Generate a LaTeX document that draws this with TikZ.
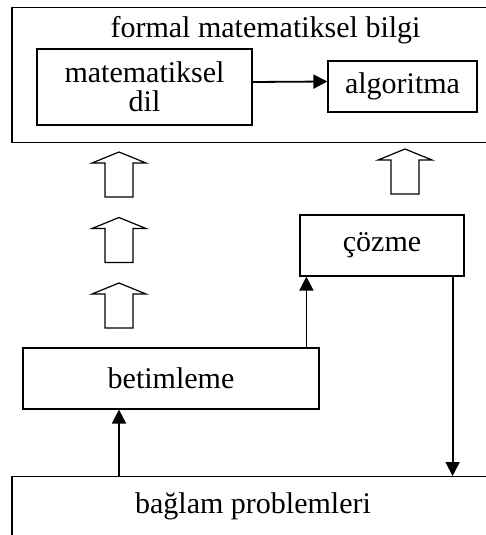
\documentclass[tikz,border=0pt]{standalone}
\usepackage{fontspec}
\setmainfont{Liberation Serif}
\usetikzlibrary{arrows.meta,positioning,calc}

\begin{document}
\begin{tikzpicture}[x=1pt, y=-1pt,
  box/.style={draw, line width=1.2pt, inner sep=0pt, align=center, font=\fontsize{30}{29}\selectfont},
  hollowup/.pic={\draw[line width=1.2pt] (-14,22.5) -- (-14,-11.5) -- (-27,-11.5) -- (0,-22.5)
    -- (27,-11.5) -- (14,-11.5) -- (14,22.5) -- cycle;},
  link/.style={line width=1.8pt, -{Triangle[length=14pt,width=14pt]}}]
  \clip (0,0) rectangle (486,535);
  %% formal knowledge frame
  \node[box, anchor=north, minimum width=507pt, text height=22pt, text depth=97pt, inner ysep=8pt] (formal) at (265.5,7) {formal matematiksel bilgi};
  \node[box, minimum width=215pt, minimum height=76pt] (dil) at (144.5,87) {matematiksel\\dil};
  \node[box, minimum width=149pt, minimum height=51pt] (algoritma) at (402.5,86.5) {algoritma};
  %% middle steps
  \node[box, minimum width=164pt, minimum height=61pt] (cozme) at (382,245.5) {çözme};
  \node[box, minimum width=296pt, minimum height=61pt] (betimleme) at (171,378.5) {betimleme};
  %% context problems
  \node[box, anchor=north, minimum width=482pt, text height=30pt, text depth=40pt, inner ysep=7pt] (baglam) at (253,476) {bağlam problemleri};
  %% hollow arrows
  \coordinate (up1) at (119,174.5);
  \coordinate (up2) at (119,240);
  \coordinate (up3) at (119,305.5);
  \coordinate (up4) at (405,171.5);
  \foreach \u in {up1,up2,up3,up4}
    \pic at (\u) {hollowup};
  %% connectors
  \draw[link] ([yshift=5pt]dil.east) -- ([yshift=5pt]algoritma.west);
  \draw[link] (baglam.north -| up3) -- (betimleme.south -| up3);
  \draw[link] ([xshift=7pt]betimleme.north -| cozme.west) -- ([xshift=7pt]cozme.south west);
  \draw[link] ([xshift=-12pt]cozme.south east) -- ([xshift=-12pt]cozme.south east |- baglam.north);
\end{tikzpicture}
\end{document}
